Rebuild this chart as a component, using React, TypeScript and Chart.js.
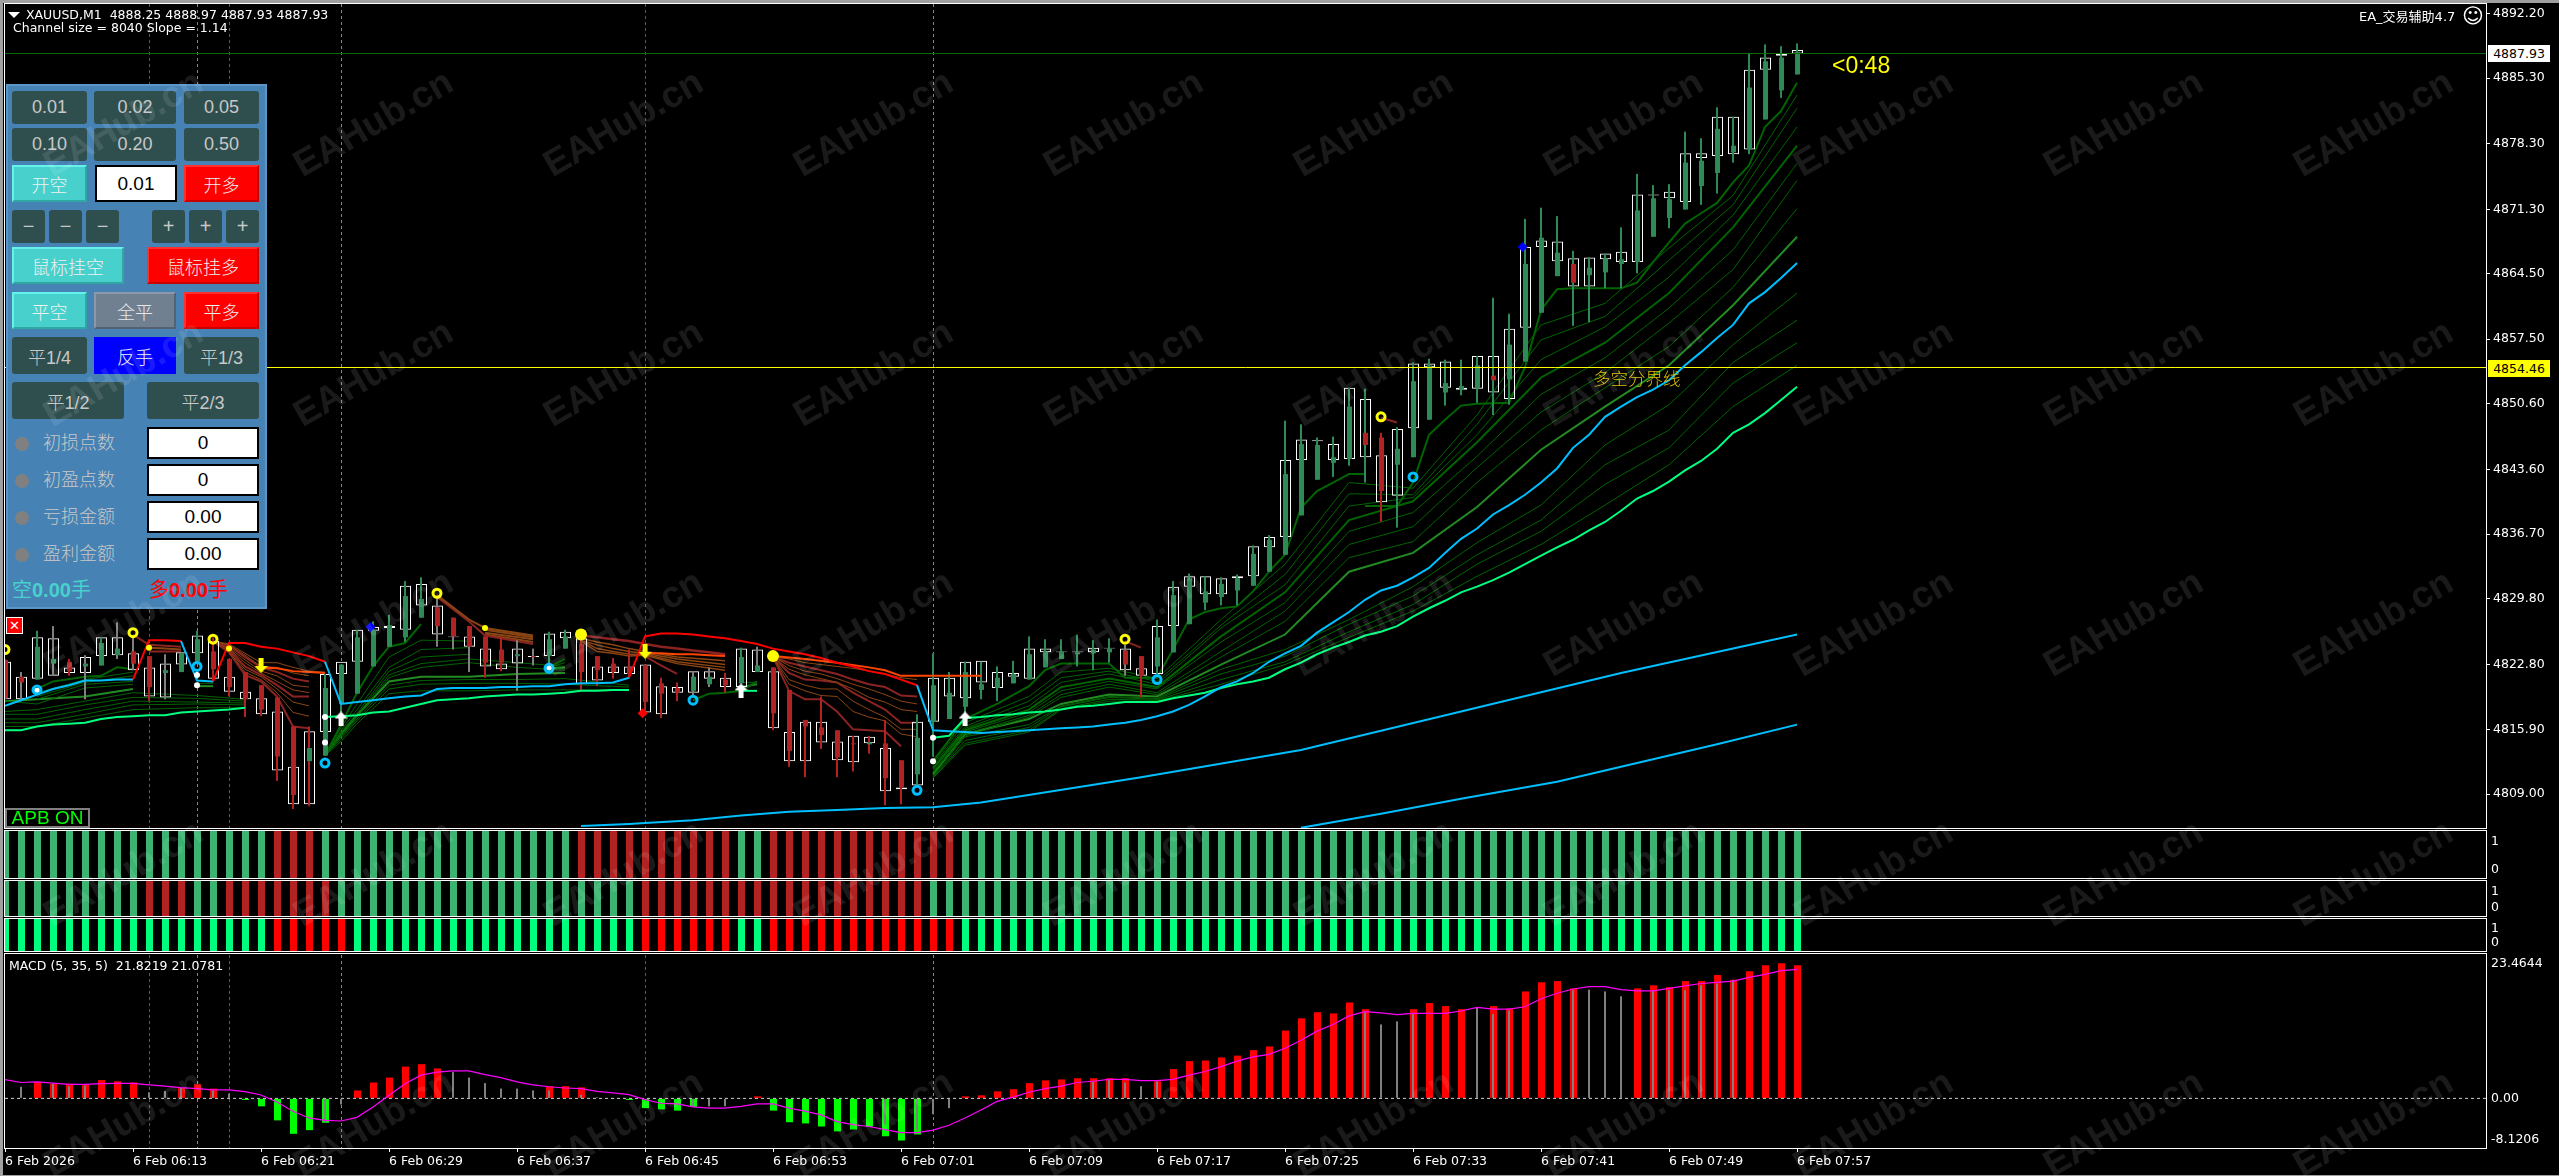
import React, { useEffect, useRef } from "react";
import { Chart, registerables } from "chart.js";

Chart.register(...registerables);

// ---------- categories and axis labels ----------
const timeTickBars = [0, 8, 16, 24, 32, 40, 48, 56, 64, 72, 80, 88, 96, 104, 112];
const timeLabels = ["6 Feb 2026", "6 Feb 06:13", "6 Feb 06:21", "6 Feb 06:29", "6 Feb 06:37", "6 Feb 06:45", "6 Feb 06:53", "6 Feb 07:01", "6 Feb 07:09", "6 Feb 07:17", "6 Feb 07:25", "6 Feb 07:33", "6 Feb 07:41", "6 Feb 07:49", "6 Feb 07:57"];
const priceTicks = [4892.2, 4885.3, 4878.3, 4871.3, 4864.5, 4857.5, 4850.6, 4843.6, 4836.7, 4829.8, 4822.8, 4815.9, 4809.0];
const lastPrice = 4887.93;
const dividePrice = 4854.46;
const redVLines = [9, 14, 40];
const blueVLines = [12, 21, 58];

// ---------- candles ----------
const wickHigh = [4823.4,4822.0,4826.4,4826.9,4823.4,4823.8,4825.7,4827.3,4825.8,4823.7,4823.9,4824.1,4826.4,4825.7,4823.4,4822.0,4820.6,4819.3,4816.2,4816.2,4821.8,4822.8,4826.5,4827.4,4828.1,4831.7,4832.1,4830.1,4827.8,4826.9,4825.8,4825.7,4825.4,4824.5,4826.3,4826.5,4825.7,4823.7,4823.5,4824.4,4822.8,4821.4,4820.9,4822.1,4822.5,4821.9,4824.6,4824.7,4822.5,4820.1,4816.9,4819.4,4815.8,4815.2,4815.2,4816.9,4812.6,4817.5,4824.0,4822.0,4823.1,4823.1,4822.6,4823.2,4825.8,4825.5,4825.5,4826.0,4825.4,4825.6,4824.9,4823.7,4827.6,4831.7,4832.5,4832.2,4832.1,4832.4,4835.5,4836.6,4848.8,4848.4,4847.0,4847.1,4852.3,4852.2,4847.5,4848.1,4855.0,4855.4,4855.3,4855.3,4855.7,4861.9,4860.2,4870.3,4871.5,4870.6,4866.9,4866.2,4866.6,4869.4,4875.1,4873.9,4874.0,4879.6,4878.9,4882.2,4881.2,4888.0,4888.9,4888.7,4889.0];
const wickLow = [4819.1,4818.9,4821.2,4821.6,4821.6,4819.1,4822.7,4823.4,4822.2,4818.9,4819.1,4822.0,4823.1,4820.9,4819.4,4817.2,4817.3,4810.4,4807.4,4807.7,4813.1,4816.4,4819.7,4822.6,4824.7,4825.2,4827.8,4824.7,4824.4,4822.0,4821.4,4822.1,4820.0,4822.7,4821.8,4824.5,4820.0,4820.5,4821.3,4821.3,4817.7,4817.1,4818.9,4819.4,4820.4,4819.8,4820.8,4822.0,4815.8,4811.9,4810.8,4813.8,4810.8,4811.4,4813.3,4807.8,4807.9,4809.9,4813.0,4817.0,4816.7,4819.1,4818.9,4820.8,4821.2,4822.5,4823.4,4822.6,4822.2,4823.0,4821.6,4819.3,4821.8,4824.1,4827.1,4828.6,4829.1,4829.1,4831.2,4832.7,4834.5,4838.7,4842.5,4842.8,4844.0,4842.2,4838.0,4837.4,4844.9,4848.9,4850.4,4851.5,4850.7,4849.4,4850.5,4855.1,4860.3,4864.2,4858.9,4859.3,4862.9,4862.9,4864.5,4868.4,4869.3,4871.3,4871.8,4873.0,4876.3,4877.2,4880.9,4883.2,4885.7];
const bodyTop = [4823.3,4821.5,4824.7,4823.4,4823.1,4822.9,4825.1,4824.5,4824.2,4823.7,4822.2,4824.0,4825.5,4824.2,4823.4,4822.0,4820.6,4819.3,4816.2,4813.9,4820.3,4822.8,4825.7,4826.5,4827.0,4830.1,4829.8,4828.9,4827.8,4826.9,4825.8,4824.4,4823.9,4823.7,4825.5,4825.8,4825.0,4823.7,4822.9,4822.5,4822.7,4820.8,4820.3,4821.5,4821.5,4821.2,4823.6,4822.7,4822.5,4820.1,4816.9,4816.1,4815.8,4814.4,4814.5,4814.4,4812.6,4815.0,4820.6,4819.8,4822.0,4820.7,4821.4,4821.8,4823.9,4824.2,4824.2,4824.1,4824.4,4824.5,4824.3,4823.7,4825.7,4830.2,4832.0,4830.6,4831.4,4832.0,4834.6,4836.1,4843.1,4846.3,4846.2,4844.9,4850.3,4847.5,4847.0,4845.8,4853.0,4854.7,4852.8,4852.5,4854.7,4853.6,4856.9,4865.5,4868.3,4866.7,4865.5,4865.1,4866.1,4866.0,4871.2,4872.5,4872.4,4876.3,4876.5,4879.9,4878.1,4884.3,4887.1,4887.5,4888.1];
const bodyBottom = [4819.2,4820.9,4821.2,4822.9,4822.1,4822.6,4822.7,4823.8,4822.9,4820.4,4821.9,4822.0,4823.1,4822.3,4820.4,4819.1,4818.0,4813.0,4808.9,4812.5,4813.1,4818.6,4819.7,4822.6,4824.7,4825.7,4827.8,4826.9,4825.8,4824.7,4823.0,4823.0,4823.7,4823.6,4823.7,4824.5,4822.0,4822.2,4822.0,4821.8,4818.8,4819.7,4819.8,4820.0,4820.7,4820.6,4820.8,4822.0,4817.6,4813.6,4816.2,4815.3,4812.9,4814.3,4814.3,4810.7,4809.7,4811.1,4816.7,4817.0,4818.3,4820.1,4820.3,4820.8,4821.2,4822.5,4823.4,4823.9,4824.0,4824.1,4822.8,4821.6,4822.6,4824.1,4827.1,4829.4,4830.0,4830.7,4831.2,4832.7,4834.5,4838.7,4842.5,4844.3,4844.7,4846.2,4841.3,4844.1,4844.9,4848.9,4851.8,4852.1,4852.3,4853.1,4853.2,4855.1,4860.3,4864.2,4863.5,4864.3,4864.6,4865.5,4865.7,4868.4,4870.4,4871.3,4873.8,4875.2,4877.4,4877.7,4880.9,4884.0,4885.7];
const boxTop = [4823.1,4821.5,4825.7,4825.6,4822.5,4823.6,4825.7,4825.7,4824.0,4822.5,4822.9,4824.1,4825.9,4825.3,4821.5,4819.9,4819.2,4817.8,4811.9,4815.7,4821.8,4823.1,4826.5,4826.8,4826.9,4831.2,4831.4,4829.1,4825.8,4825.8,4824.5,4822.9,4824.5,4823.7,4826.1,4826.3,4825.6,4822.6,4822.6,4822.6,4822.8,4820.5,4820.4,4822.1,4822.1,4821.4,4824.5,4824.4,4822.1,4815.6,4816.7,4816.7,4814.6,4815.2,4815.1,4813.9,4809.7,4816.7,4821.4,4821.4,4823.1,4823.2,4822.0,4821.9,4824.5,4824.5,4824.2,4824.2,4824.6,4824.6,4824.5,4822.4,4826.9,4831.1,4832.2,4832.2,4832.0,4832.2,4835.4,4836.4,4844.6,4846.8,4846.7,4846.3,4852.3,4851.1,4845.1,4847.9,4854.9,4854.9,4855.1,4852.3,4855.7,4855.7,4858.6,4867.3,4868.0,4867.9,4866.1,4866.2,4866.6,4866.8,4872.9,4872.9,4873.2,4877.3,4877.3,4881.2,4881.2,4886.2,4887.5,4887.9,4888.3];
const boxBottom = [4819.1,4819.1,4821.3,4821.6,4821.9,4821.9,4823.7,4823.8,4822.2,4819.4,4819.3,4822.8,4824.0,4821.3,4819.9,4819.1,4817.5,4811.5,4807.9,4807.9,4815.6,4821.8,4823.1,4826.4,4826.7,4826.5,4829.1,4826.0,4825.7,4824.7,4822.6,4822.3,4822.9,4823.6,4823.7,4825.6,4820.7,4821.1,4821.9,4821.8,4817.7,4817.5,4819.8,4819.8,4821.3,4820.4,4820.4,4822.0,4816.0,4812.5,4812.5,4814.5,4812.6,4812.4,4814.4,4809.3,4809.5,4809.9,4816.7,4819.4,4819.2,4820.9,4820.3,4821.5,4821.3,4824.1,4824.1,4824.1,4824.1,4824.5,4822.2,4821.6,4821.8,4826.9,4831.1,4830.3,4830.3,4832.0,4832.2,4835.3,4836.4,4844.6,4846.6,4844.6,4844.7,4844.9,4840.1,4840.8,4848.0,4854.5,4852.3,4852.1,4852.2,4851.8,4851.1,4858.7,4867.3,4865.8,4863.1,4863.1,4866.0,4865.7,4865.7,4872.8,4872.5,4872.1,4876.8,4877.0,4877.2,4877.7,4886.2,4887.7,4887.9];
const redBodies = [0,1,4,8,9,13,14,15,16,17,18,27,28,29,30,31,33,36,37,38,39,40,41,42,45,48,49,50,51,52,53,55,56,70,71,85,86,93,98];
const grayWicks = [1,3,5,7,8,10,11,27,28,29,32,33,43,44,47,70];
const greenWicksOnRed = [85,93,98];
const redWicksOnGreen = [19,54];

// ---------- main trend lines ----------
const trendLine = [4818.4,4819.0,4819.6,4820.2,4820.6,4821.1,4821.1,4821.2,4821.2,4825.4,4825.4,4825.3,4821.1,4821.0,4825.1,4825.1,4824.7,4824.5,4824.1,4823.7,4823.1,4818.6,4818.8,4819.0,4819.2,4819.4,4819.5,4820.2,4820.3,4820.3,4820.3,4820.4,4820.4,4820.5,4820.5,4820.7,4820.8,4820.8,4820.9,4821.4,4825.8,4826.1,4826.1,4826.0,4825.8,4825.6,4825.3,4825.0,4824.5,4824.2,4823.9,4823.5,4823.0,4822.6,4822.1,4821.8,4821.2,4820.6,4815.8,4815.7,4815.6,4815.5,4815.6,4815.7,4815.8,4815.9,4816.0,4816.1,4816.2,4816.4,4816.6,4816.9,4817.3,4817.8,4818.5,4819.4,4820.4,4821.0,4821.9,4823.1,4824.0,4824.8,4826.2,4827.3,4828.4,4829.7,4830.7,4831.2,4832.1,4833.1,4834.7,4836.2,4837.3,4838.8,4839.8,4840.9,4842.2,4843.7,4845.9,4847.3,4849.2,4850.3,4851.3,4852.1,4853.1,4854.7,4856.1,4857.6,4859.0,4861.3,4862.5,4864.0,4865.6];
const trendDownBars = [9,10,11,14,15,16,17,18,19,20,40,41,42,43,44,45,46,47,48,49,50,51,52,53,54,55,56,57];
const springA = [4815.8,4815.8,4816.2,4816.4,4816.5,4816.6,4817.0,4817.2,4817.3,4817.4,4817.4,4817.7,4817.8,4817.9,4818.0,4818.2];
const springB = [4817.2,4817.3,4817.4,4817.7,4817.8,4818.2,4818.6,4819.0,4819.1,4819.2,4819.4,4819.5,4819.6,4819.6,4819.7,4819.8,4820.0,4820.0,4820.1,4820.1];
const springC = [4820.0,4820.0];
const springD = [4815.0,4815.2,4817.1,4817.2,4817.4,4817.5,4817.7,4817.8,4818.0,4818.3,4818.4,4818.6,4818.8,4818.8,4818.8,4819.2,4819.5,4819.8,4820.3,4820.7,4821.0,4821.4,4822.3,4823.0,4823.9,4824.6,4825.2,4825.9,4826.3,4826.9,4827.9,4828.8,4829.6,4830.5,4831.1,4831.8,4832.6,4833.5,4834.4,4835.3,4836.1,4837.1,4838.0,4839.2,4840.5,4841.3,4842.3,4843.5,4844.5,4845.8,4847.5,4848.4,4849.6,4851.0,4852.4];
const longBars1 = [36,39,40,43,46,49,52,55,58,61,71,81,91,101,112];
const longLine1 = [4805.6,4805.8,4805.9,4806.2,4806.7,4807.1,4807.3,4807.5,4807.6,4808.1,4810.8,4813.7,4817.8,4821.9,4826.0];
const longBars2 = [81,86,91,97,102,107,112];
const longLine2 = [4805.4,4806.9,4808.5,4810.3,4812.3,4814.3,4816.4];

// ---------- rising ribbon, last leg ----------
const upTopBars1 = [58,60,62,64,65,66,69,70,72,73,74,75,76,77,78,79,80,81,82,83,84,85];
const upTop1 = [4812.5,4817.0,4818.6,4820.5,4822.2,4822.9,4822.9,4821.4,4821.4,4824.4,4827.6,4828.4,4828.8,4829.0,4830.6,4832.7,4834.5,4839.5,4841.3,4842.2,4843.1,4843.1];
const upTopBars2 = [85,87,88,89,90,91,92,94,95,96,97,98,101,102,103,104,105,106,107,108,109,110,111,112];
const upTop2 = [4839.7,4839.7,4842.2,4847.3,4848.9,4850.4,4850.6,4850.7,4854.5,4860.6,4862.8,4862.9,4862.9,4863.5,4865.7,4867.8,4869.8,4870.9,4872.0,4874.2,4876.0,4880.1,4881.8,4884.8];
const upFanBars = [58,60,64,66,69,72,76,80,84,88,92,96,100,104,108,112];
const upFan2 = [4812.3,4816.6,4819.4,4822.0,4822.4,4821.3,4827.6,4833.5,4842.2,4841.6,4849.4,4859.0,4861.3,4867.2,4872.8,4883.5];
const upFan3 = [4812.1,4816.2,4818.9,4821.4,4822.1,4821.0,4827.0,4832.4,4841.0,4840.9,4848.4,4857.4,4859.9,4865.9,4871.8,4882.1];
const upFan4 = [4811.9,4816.0,4818.4,4820.9,4821.8,4820.7,4826.7,4831.3,4839.7,4840.6,4847.3,4855.3,4858.8,4864.1,4870.7,4880.1];
const upFan5 = [4811.7,4815.8,4818.0,4820.4,4821.3,4820.4,4825.8,4830.5,4838.2,4840.2,4846.5,4853.4,4857.1,4862.4,4869.4,4878.1];
const upFan6 = [4811.6,4815.6,4817.7,4820.0,4821.0,4820.2,4825.2,4829.4,4837.0,4839.0,4845.0,4851.6,4855.5,4860.8,4867.0,4876.2];
const upFan7 = [4811.4,4815.4,4817.4,4819.6,4820.7,4819.8,4824.2,4828.5,4835.6,4837.5,4843.8,4849.7,4853.9,4859.2,4864.9,4874.4];
const upFan8 = [4811.3,4815.2,4817.2,4819.3,4820.4,4819.6,4823.6,4827.4,4834.2,4835.9,4842.2,4847.8,4852.3,4856.7,4863.0,4871.4];
const upFan9 = [4811.1,4815.4,4817.0,4818.6,4819.6,4819.4,4822.8,4826.0,4832.7,4834.7,4839.6,4845.7,4850.3,4854.7,4861.1,4868.4];
const upFan10 = [4811.0,4815.1,4816.4,4818.4,4819.4,4819.2,4822.3,4824.4,4827.6,4831.1,4835.8,4839.8,4846.2,4850.5,4856.9,4862.4];
const upFan11 = [4810.9,4814.7,4816.1,4818.3,4819.3,4819.1,4821.8,4823.7,4827.1,4830.1,4834.5,4838.2,4844.1,4847.8,4855.0,4859.5];
const upFan12 = [4810.8,4814.4,4815.8,4818.1,4819.1,4819.0,4821.2,4823.1,4826.3,4829.2,4833.5,4837.0,4842.0,4845.9,4852.8,4857.1];
const upFan13 = [4810.7,4814.2,4815.6,4818.0,4818.9,4818.9,4820.7,4822.8,4825.7,4828.5,4832.2,4835.6,4839.8,4844.1,4850.3,4854.7];

// ---------- early rising ribbons ----------
const earlyTopBars = [2,3,5,6,7,8];
const earlyTop = [4820.2,4821.0,4821.5,4821.6,4822.5,4822.3];
const earlyUpperBars = [2,5,8];
const earlyUpper2 = [4819.8,4821.2,4822.0];
const earlyUpper3 = [4819.4,4820.9,4821.6];
const earlyUpper4 = [4819.1,4820.7,4821.0];
const earlyMidBars = [0,2,5,8];
const earlyMid5 = [4818.9,4818.6,4820.3,4820.7];
const earlyForest = [4818.9,4819.1,4819.4,4820.2];
const earlyLowBars = [0,2,5,8,12,15];
const earlyLow1 = [4817.8,4818.0,4818.9,4819.8,4819.5,4819.1];
const earlyLow2 = [4817.5,4817.5,4818.5,4819.3,4819.2,4818.9];
const earlyLow3 = [4817.0,4817.0,4818.0,4818.9,4818.8,4818.7];
const earlyLow4 = [4816.6,4816.6,4817.5,4818.5,4818.6,4818.5];
const earlyLow5 = [4816.2,4816.2,4817.1,4818.0,4818.2,4818.2];
const shortBars = [12,13];
const shortA = [4820.8,4820.8];
const shortB = [4820.5,4820.5];
const midTopBars = [20,21,22,23,24,25,26];
const midTop = [4813.1,4816.4,4819.8,4822.6,4824.7,4825.1,4827.1];
const midBars = [20,21,22,24,26,29,32,35,39];
const mid2 = [4813.1,4816.1,4818.6,4823.6,4825.4,4825.3];
const mid3 = [4813.1,4815.8,4818.0,4822.5,4824.4,4824.6];
const mid4 = [4813.1,4815.6,4817.6,4822.1,4823.6,4823.9];
const mid5 = [4813.1,4815.4,4817.4,4821.7,4822.9,4823.4,4823.0,4822.6];
const mid6 = [4813.1,4815.2,4817.2,4821.4,4822.5,4823.0,4822.5,4822.2];
const midForest = [4813.1,4815.4,4817.4,4821.0,4821.5,4821.5,4821.8,4821.9];
const midLow1 = [4813.1,4815.1,4817.0,4820.6,4821.1,4821.2,4821.2,4821.3,4820.6];
const midLow2 = [4813.1,4814.9,4816.8,4820.2,4820.7,4820.8,4820.8,4820.7,4820.4];
const midLow3 = [4813.1,4814.6,4816.5,4819.7,4820.0,4820.0,4820.1,4820.1,4820.1];
const wedgeBars = [34,35];
const wedgeA = [4822.5,4823.4];
const wedgeB = [4822.5,4823.0];
const wedgeC = [4822.4,4822.5];
const stubBars = [43,44,45,46,47];
const stubTop = [4819.0,4819.7,4819.8,4820.0,4821.0];
const stubBars2 = [46,47];
const stubA = [4820.4,4820.7];
const stubB = [4820.9,4820.9];

// ---------- falling ribbons ----------
const fallCBars = [8,9,10,11];
const fallC1 = [4826.0,4824.9,4824.8,4824.7];
const fallCBars2 = [9,10,11];
const fallC2 = [4824.6,4824.5,4824.4];
const fallC3 = [4824.2,4824.2,4824.2];
const fallDBars = [13,14,15,16,17,18,19,20];
const fallD1 = [4825.3,4825.0,4824.0,4823.0,4823.0,4822.5,4822.1,4822.0];
const fallD2 = [4825.3,4824.9,4823.8,4822.6,4822.5,4821.9,4821.6];
const fallD3 = [4825.3,4824.8,4823.6,4822.5,4822.0,4821.3,4821.0];
const fallD4 = [4825.3,4824.6,4823.3,4822.1,4821.6,4820.6,4820.4];
const fallD5 = [4825.3,4824.5,4823.0,4821.9,4821.0,4820.1,4819.8];
const fallD6 = [4825.3,4824.4,4822.6,4821.7,4820.6,4819.4,4819.4];
const fallD7 = [4825.3,4824.3,4822.3,4821.5,4820.2,4818.8,4818.4];
const fallD8 = [4825.3,4824.2,4822.0,4821.2,4819.8,4817.7,4817.3];
const fallD9 = [4825.3,4824.1,4821.7,4821.0,4819.4,4816.2,4816.0];
const orangeDBars = [16,17,18,19,20];
const orangeD = [4822.5,4822.4,4822.1,4822.0,4821.9];
const fallEBars = [27,28,29,30,33];
const fallE1 = [4830.2,4828.9,4827.6,4826.7,4825.9];
const fallE2 = [4830.0,4828.7,4827.4,4825.9,4825.0];
const fallEBars2 = [30,33];
const fallE3 = [4826.5,4825.7];
const fallE4 = [4826.2,4825.5];
const fallE5 = [4826.0,4825.2];
const fallFBars = [36,37,38,39,40,41,42,43,44,45];
const fallF1 = [4825.9,4825.7,4825.5,4825.3,4825.0,4824.7,4824.5,4824.3,4824.1,4823.9];
const orangeFBars = [40,41,42,43,44,45];
const orangeF = [4824.0,4824.0,4823.9,4823.9,4823.8,4823.7];
const fallFBars2 = [36,37,38,39,40,42,45];
const fallF2 = [4825.6,4825.2,4824.9,4824.5,4824.2,4823.6,4823.2];
const fallF3 = [4825.4,4824.9,4824.5,4824.2,4824.0,4823.4,4822.8];
const fallF4 = [4825.4,4824.5,4824.2,4823.9,4823.9,4823.1,4822.5];
const fallF5 = [4825.3,4824.2,4824.0,4823.7,4823.8,4822.9,4822.2];
const fallFBars3 = [40,41,42];
const fallF6 = [4823.7,4822.7,4821.8];
const fallGBars = [48,49,50,51,52,53,54,55,56,57];
const fallG1 = [4823.6,4823.4,4823.0,4822.8,4822.6,4822.4,4822.1,4821.8,4821.4,4821.2];
const fallG2 = [4823.6,4823.0,4822.6,4822.2,4821.8,4821.2,4820.7,4820.4,4819.5,4819.4];
const fallG3 = [4823.6,4822.7,4822.1,4821.8,4821.3,4820.7,4820.2,4819.6,4818.9,4818.6];
const fallG4 = [4823.6,4822.3,4821.7,4821.3,4820.9,4820.2,4819.3,4818.8,4818.0,4817.8];
const fallG5 = [4823.6,4821.9,4821.2,4821.1,4820.9,4819.8,4818.9,4818.0,4816.6,4816.6];
const fallG6 = [4823.6,4821.2,4820.6,4820.2,4820.2,4818.9,4818.0,4817.2,4815.9,4815.9];
const fallG7 = [4823.6,4820.7,4820.0,4819.5,4819.4,4817.8,4817.2,4816.8,4815.4,4815.1];
const fallG8 = [4823.6,4820.0,4819.1,4819.1,4817.8,4815.9,4815.8,4815.7,4814.1];
const orangeGBars = [48,50,52,54,55,56,61];
const orangeG = [4823.7,4823.4,4823.0,4822.5,4822.2,4821.6,4821.6];
const tickBarsA = [70,71];
const tickA = [4825.3,4824.6];
const tickBarsB = [86,87];
const tickB = [4849.1,4848.6];

// ---------- signal markers ----------
const yellowRingBars = [0,8,13,27,70,86];
const yellowRings = [4824.4,4826.2,4825.5,4830.4,4825.5,4849.2];
const blueRingBars = [2,12,20,34,43,57,72,88];
const blueRings = [4820.1,4822.6,4812.3,4822.4,4819.0,4809.4,4821.2,4842.8];
const whiteDotBars = [2,12,12,20,20,34,58,58];
const whiteDots = [4820.0,4821.7,4820.6,4817.2,4814.5,4822.5,4815.0,4812.5];
const yellowDotBars = [9,14,30];
const yellowDots = [4824.6,4824.5,4826.7];
const yellowBlobBars = [36,48];
const yellowBlobs = [4826.0,4823.7];
const downArrowBars = [16,40];
const downArrows = [4822.7,4824.2];
const upArrowBars = [21,46,60];
const upArrows = [4817.0,4820.0,4817.0];
const blueDiamondBars = [22.85,94.85];
const blueDiamonds = [4826.8,4867.3];
const redDiamondBars = [39.85];
const redDiamonds = [4817.6];

// ---------- three signal strips ----------
const strip1DownRuns = [[17,19],[36,45],[48,59]];
const strip2DownRuns = [[9,11],[14,20],[40,57]];
const strip3DownRuns = [[17,21],[40,45],[48,59]];
const lastBar = 112;

// ---------- MACD ----------
const macdWide = [0,0,2.7,2.4,2.4,2.25,3.0,2.8,2.6,0,0,1.7,2.3,1.6,0,-0.27,-1.3,-3.6,-5.8,-5.2,-4.0,0,1.3,2.6,3.4,5.2,5.6,4.9,0,0,0,0,0,0,2.0,2.0,1.8,0,-0.1,-0.27,-1.6,-1.8,-2.0,-1.4,0,0,0,0.33,-2.0,-3.9,-4.1,-4.6,-5.4,-5.1,-4.6,-6.2,-6.9,-5.9,0,0,0.33,0.5,1.15,1.5,2.5,2.95,3.1,3.3,3.3,3.3,3.3,0,2.8,4.8,6.1,6.2,6.7,7.0,7.9,8.5,11.1,13.1,14.1,13.9,15.7,14.6,0,0,14.6,15.6,15.1,14.6,0,15.1,14.7,17.5,19.0,19.2,18.0,0,0,0,18.0,18.5,18.2,19.2,19.2,20.2,19.4,20.8,21.8,22.1,21.8];
const macdThin = [0,1.9,0,2.4,2.0,2.1,0,0,0,1.0,1.2,1.7,0,1.3,0.8,0,0,0,0,0,-3.9,-1.0,0,0,0,0,0,0,4.3,3.4,2.5,1.6,1.6,1.3,1.3,0,0.6,0.2,0,0,0,0,0,-1.4,-1.3,-1.3,-0.05,0,0,0,0,0,0,0,0,-4.3,0,-5.2,-2.6,-1.6,0,0,0,0,0,0,0,0,2.8,3.0,2.6,2.0,2.8,0,0,0,0,0,0,0,0,0,0,0,0,14.1,12.1,12.6,13.8,0,0,0,14.8,13.8,14.4,0,0,0,17.7,17.8,17.5,16.7,0,17.7,17.7,17.7,18.5,18.8,19.4,0,0,0,0];
const macdSignal = [3.06,2.6,2.7,2.5,2.3,2.3,2.4,2.45,2.45,2.2,2.0,1.75,1.6,1.4,1.4,1.1,0.55,-0.6,-2.1,-3.2,-3.6,-3.7,-3.1,-1.4,0.5,2.4,3.8,4.3,4.5,4.5,3.9,3.4,2.7,2.2,1.9,1.7,1.6,1.15,0.9,0.6,-0.2,-0.8,-0.9,-1.4,-1.6,-1.6,-1.3,-0.9,-0.9,-1.6,-2.1,-2.7,-3.8,-4.3,-4.6,-5.1,-5.6,-5.6,-5.2,-4.4,-3.2,-1.9,-0.5,0.2,1.0,1.6,2.0,2.6,2.8,3.1,3.1,2.9,2.9,3.1,3.8,4.4,5.2,6.1,6.8,7.2,8.2,9.5,11.0,12.1,13.5,14.2,14.0,13.7,13.9,13.9,13.9,14.3,14.9,14.6,14.6,15.0,16.3,17.2,17.9,18.3,18.3,17.8,17.6,17.6,18.0,18.4,18.8,19.0,19.2,19.8,20.3,20.9,21.1];
const macdMax = 23.4644;
const macdMin = -8.1206;

// ---------- styles ----------
const C = {
  bodyUp: "#2E8B57", bodyDown: "#B22222", wickGray: "#808080", box: "#FFFFFF",
  cyan: "#00BFFF", red: "#FF0000", spring: "#00FF7F", dark: "#006400", forest: "#228B22",
  brown: "#8B4513", darkRed: "#8B2323", orange: "#FF4500", yellow: "#FFFF00",
  stripUp: "#3CB371", stripDown: "#B22222", strip3Up: "#00FF7F", strip3Down: "#FF0000",
};
const UI_FONT = '"DejaVu Sans", sans-serif';
const AXIS_FONT = { family: '"DejaVu Sans", sans-serif', size: 12.5 };
const W = 2559;
const RIGHT_AXIS = 73;
const BAR_MAX = 155.06;
const HALF = 1 / 32;

const pair = (xs: number[], ys: number[]) => ys.map((y, k) => ({ x: xs[k], y }));
const seq = (from: number, ys: number[]) => ys.map((y, k) => ({ x: from + k, y }));
const inRuns = (runs: number[][], i: number) => runs.some(([a, b]) => i >= a && i <= b);
const barIndexes = Array.from({ length: lastBar + 1 }, (_, i) => i);

function ln(data: any[], color: string, width: number, order = 20, extra: any = {}) {
  return { type: "line", data, borderColor: color, borderWidth: width, pointRadius: 0, tension: 0, fill: false, order, ...extra };
}
function pts(data: any[], opt: any) {
  return { type: "scatter", data, order: 1, ...opt };
}
function arrowImage(color: string, down: boolean) {
  const c = document.createElement("canvas");
  c.width = 13; c.height = 15;
  const g = c.getContext("2d")!;
  g.fillStyle = color;
  if (down) { g.translate(0, 15); g.scale(1, -1); }
  g.beginPath();
  g.moveTo(6.5, 0); g.lineTo(13, 7); g.lineTo(9, 7); g.lineTo(9, 15); g.lineTo(4, 15); g.lineTo(4, 7); g.lineTo(0, 7);
  g.closePath(); g.fill();
  return c;
}

function framePlugin(frameTop: number) {
  return {
    id: "paneFrame",
    beforeDatasetsDraw(chart: any) {
      const { ctx, chartArea: a, scales } = chart;
      ctx.save();
      ctx.lineWidth = 1;
      ctx.setLineDash([3, 3]);
      const draw = (bars: number[], color: string) => {
        ctx.strokeStyle = color;
        bars.forEach((b) => {
          const x = Math.round(scales.x.getPixelForValue(b)) + 0.5;
          ctx.beginPath(); ctx.moveTo(x, a.top); ctx.lineTo(x, a.bottom); ctx.stroke();
        });
      };
      draw(redVLines, "#E02020");
      draw(blueVLines, "#1EA8E0");
      ctx.restore();
    },
    afterDraw(chart: any) {
      const { ctx, chartArea: a } = chart;
      ctx.save();
      ctx.strokeStyle = "#FFFFFF";
      ctx.lineWidth = 1;
      ctx.strokeRect(a.left - 0.5, frameTop + 0.5, a.right - a.left + 1, a.bottom - frameTop);
      ctx.restore();
    },
  };
}

function baseOptions(p: any) {
  return {
    responsive: false,
    animation: false,
    devicePixelRatio: 1,
    layout: { autoPadding: false, padding: { left: 5, right: 0, top: p.padTop, bottom: p.padBottom } },
    plugins: { legend: { display: false }, tooltip: { enabled: false } },
    datasets: { bar: { grouped: false, borderSkipped: false, inflateAmount: 0 } },
    events: [],
    scales: {
      x: {
        type: "linear", min: 0, max: BAR_MAX, display: !!p.showTime, offset: false,
        border: { display: false },
        grid: { offset: false, drawOnChartArea: false, drawTicks: !!p.showTime, tickLength: 4, color: "#FFFFFF" },
        afterBuildTicks: (s: any) => { s.ticks = timeTickBars.map((value) => ({ value })); },
        afterFit: (s: any) => {
          s.paddingLeft = 0; s.paddingRight = 0;
          if (p.showTime) s.height = 28;
        },
        ticks: {
          autoSkip: false, maxRotation: 0, align: "start", color: "#FFFFFF", font: AXIS_FONT, padding: 2,
          callback: (v: number) => timeLabels[timeTickBars.indexOf(v)],
        },
      },
      y: {
        type: "linear", position: "right", min: p.yMin, max: p.yMax,
        border: { display: false },
        grid: { drawOnChartArea: false, drawTicks: !!p.yMarks, tickLength: 4, color: "#FFFFFF" },
        afterFit: (s: any) => { s.width = RIGHT_AXIS; s.paddingTop = 0; s.paddingBottom = 0; },
        afterBuildTicks: (s: any) => { s.ticks = p.yTicks.map((value: number) => ({ value })); },
        ticks: {
          autoSkip: false, color: "#FFFFFF", font: AXIS_FONT, padding: p.yMarks ? 3 : 5,
          callback: p.yLabel,
        },
      },
    },
  };
}

function PaneChart({ top, height, build }: { top: number; height: number; build: () => any }) {
  const ref = useRef<HTMLCanvasElement | null>(null);
  useEffect(() => {
    const chart = new Chart(ref.current!, build());
    return () => chart.destroy();
  }, []);
  return <canvas ref={ref} width={W} height={height} style={{ position: "absolute", left: 0, top, width: W, height, display: "block" }} />;
}

function buildPrice() {
  const wickColor = (i: number) => {
    if (grayWicks.includes(i)) return C.wickGray;
    if (greenWicksOnRed.includes(i)) return C.bodyUp;
    if (redWicksOnGreen.includes(i)) return C.bodyDown;
    return redBodies.includes(i) ? C.bodyDown : C.bodyUp;
  };
  const thin = (xs: number[], ys: number[], color = C.dark, w = 1, order = 20) => ln(pair(xs, ys), color, w, order);
  const datasets: any[] = [
    // ribbons under the candles
    ...[earlyUpper2, earlyUpper3, earlyUpper4].map((s) => thin(earlyUpperBars, s)),
    thin(earlyTopBars, earlyTop, C.dark, 2),
    thin(earlyMidBars, earlyMid5),
    thin(earlyMidBars, earlyForest, C.forest, 2),
    ...[earlyLow1, earlyLow2, earlyLow3, earlyLow4, earlyLow5].map((s) => thin(earlyLowBars, s)),
    thin(shortBars, shortA, C.dark, 1), thin(shortBars, shortB, C.forest, 2),
    thin(midTopBars, midTop, C.dark, 2),
    ...[mid2, mid3, mid4, mid5, mid6, midLow1, midLow2, midLow3].map((s) => thin(midBars, s)),
    thin(midBars, midForest, C.forest, 2),
    thin(wedgeBars, wedgeA, C.dark, 2), thin(wedgeBars, wedgeB), thin(wedgeBars, wedgeC, C.forest, 2),
    thin(stubBars, stubTop, C.dark, 2), thin(stubBars2, stubA, C.forest, 2), thin(stubBars2, stubB),
    thin(upTopBars1, upTop1, C.dark, 2), thin(upTopBars2, upTop2, C.dark, 2),
    ...[upFan2, upFan3, upFan4, upFan6, upFan7, upFan8, upFan10, upFan11, upFan12, upFan13].map((s) => thin(upFanBars, s)),
    thin(upFanBars, upFan5, C.dark, 2),
    thin(upFanBars, upFan9, C.forest, 2),
    // falling ribbons
    thin(fallCBars, fallC1, C.darkRed, 2), thin(fallCBars2, fallC2, C.brown, 2), thin(fallCBars2, fallC3, C.darkRed, 2),
    thin(fallDBars, fallD1, C.brown, 1), thin(fallDBars, fallD2, C.brown, 1), thin(fallDBars, fallD3, C.darkRed, 2),
    thin(fallDBars, fallD4, C.brown, 1), thin(fallDBars, fallD5, C.brown, 1), thin(fallDBars, fallD6, C.darkRed, 2),
    thin(fallDBars, fallD7, C.brown, 1), thin(fallDBars, fallD8, C.brown, 1), thin(fallDBars, fallD9, C.darkRed, 2),
    thin(fallEBars, fallE1, C.brown, 2), thin(fallEBars, fallE2, C.darkRed, 2),
    thin(fallEBars2, fallE3, C.brown, 2), thin(fallEBars2, fallE4, C.brown, 2), thin(fallEBars2, fallE5, C.brown, 2),
    thin(fallFBars, fallF1, C.darkRed, 2.5),
    ...[fallF2, fallF3, fallF4, fallF5].map((s) => thin(fallFBars2, s, C.brown, 1.5)),
    thin(fallFBars3, fallF6, C.darkRed, 2),
    ...[fallG1, fallG3, fallG4, fallG6, fallG7].map((s) => thin(fallGBars, s, C.brown, 1)),
    ...[fallG2, fallG5, fallG8].map((s) => thin(fallGBars, s, C.darkRed, 2)),
    thin(tickBarsA, tickA, C.darkRed, 2), thin(tickBarsB, tickB, C.darkRed, 2),
    // candles
    {
      type: "bar", order: 12, barThickness: 11, borderWidth: 1, borderColor: C.box, backgroundColor: "rgba(0,0,0,0)",
      data: barIndexes.map((i) => ({ x: i + HALF, y: [boxBottom[i], boxTop[i]] })),
    },
    {
      type: "bar", order: 11, barThickness: 2, backgroundColor: barIndexes.map(wickColor),
      data: barIndexes.map((i) => ({ x: i, y: [wickLow[i], wickHigh[i]] })),
    },
    {
      type: "bar", order: 10, barThickness: 5,
      backgroundColor: barIndexes.map((i) => (redBodies.includes(i) ? C.bodyDown : C.bodyUp)),
      data: barIndexes.map((i) => ({ x: i + HALF, y: [bodyBottom[i], bodyTop[i]] })),
    },
    // lines over the candles
    ln(pair([0, BAR_MAX], [lastPrice, lastPrice]), "#0A6A0A", 1, 9),
    ln(pair([0, BAR_MAX], [dividePrice, dividePrice]), "#FFFF00", 1, 9),
    ln(seq(0, trendLine), C.cyan, 2, 5, {
      segment: { borderColor: (c: any) => (trendDownBars.includes(c.p1DataIndex) ? C.red : C.cyan) },
    }),
    ln(seq(0, springA), C.spring, 2, 6), ln(seq(20, springB), C.spring, 2, 6),
    ln(seq(46, springC), C.spring, 2, 6), ln(seq(58, springD), C.spring, 2, 6),
    ln(pair(longBars1, longLine1), C.cyan, 2, 6), ln(pair(longBars2, longLine2), C.cyan, 2, 6),
    thin(orangeDBars, orangeD, C.orange, 2, 6), thin(orangeFBars, orangeF, C.orange, 2, 6), thin(orangeGBars, orangeG, C.orange, 2, 6),
    // markers
    pts(pair(yellowRingBars, yellowRings), { pointStyle: "circle", pointRadius: 4, pointBorderWidth: 3, pointBorderColor: C.yellow, pointBackgroundColor: "rgba(0,0,0,0)" }),
    pts(pair(blueRingBars, blueRings), { pointStyle: "circle", pointRadius: 4, pointBorderWidth: 3, pointBorderColor: C.cyan, pointBackgroundColor: "rgba(0,0,0,0)" }),
    pts(pair(whiteDotBars, whiteDots), { pointStyle: "circle", pointRadius: 3, pointBorderWidth: 0, pointBackgroundColor: "#FFFFFF" }),
    pts(pair(yellowDotBars, yellowDots), { pointStyle: "circle", pointRadius: 3, pointBorderWidth: 0, pointBackgroundColor: C.yellow }),
    pts(pair(yellowBlobBars, yellowBlobs), { pointStyle: "circle", pointRadius: 6, pointBorderWidth: 0, pointBackgroundColor: C.yellow }),
    pts(pair(downArrowBars, downArrows), { pointStyle: arrowImage(C.yellow, true), pointRadius: 7 }),
    pts(pair(upArrowBars, upArrows), { pointStyle: arrowImage("#FFFFFF", false), pointRadius: 7 }),
    pts(pair(blueDiamondBars, blueDiamonds), { pointStyle: "rectRot", pointRadius: 5, pointBorderWidth: 0, pointBackgroundColor: "#0000FF" }),
    pts(pair(redDiamondBars, redDiamonds), { pointStyle: "rectRot", pointRadius: 5, pointBorderWidth: 0, pointBackgroundColor: "#FF0000" }),
  ];
  return {
    data: { datasets },
    options: baseOptions({
      padTop: 1, padBottom: 2, yMin: 4805.38, yMax: 4893.206, yTicks: priceTicks, yMarks: true,
      yLabel: (v: number) => v.toFixed(2),
    }),
    plugins: [framePlugin(0)],
  };
}

function buildStrip(runs: number[][], up: string, down: string, tickAt: number[], padTop: number) {
  return () => ({
    data: {
      datasets: [{
        type: "bar", barThickness: 7,
        data: barIndexes.map((i) => ({ x: i + HALF, y: 1 })),
        backgroundColor: barIndexes.map((i) => (inRuns(runs, i) ? down : up)),
      }],
    },
    options: baseOptions({
      padTop, padBottom: 2, yMin: 0, yMax: 1, yTicks: tickAt, yMarks: false,
      yLabel: (_v: number, idx: number) => (idx === 0 ? "0" : "1"),
    }),
    plugins: [framePlugin(0)],
  });
}

function buildMacd() {
  return {
    data: {
      datasets: [
        {
          type: "bar", order: 6, barThickness: 7,
          data: barIndexes.filter((i) => macdWide[i] !== 0).map((i) => ({ x: i + HALF, y: macdWide[i] })),
          backgroundColor: barIndexes.filter((i) => macdWide[i] !== 0).map((i) => (macdWide[i] > 0 ? "#FF0000" : "#00FF00")),
        },
        {
          type: "bar", order: 5, barThickness: 2, backgroundColor: "#808080",
          data: barIndexes.filter((i) => macdThin[i] !== 0).map((i) => ({ x: i, y: macdThin[i] })),
        },
        ln(pair([0, BAR_MAX], [0, 0]), "#D0D0D0", 1, 4, { borderDash: [3, 3] }),
        ln(seq(0, macdSignal), "#FF00FF", 1.2, 3),
      ],
    },
    options: baseOptions({
      padTop: 2, padBottom: 0, yMin: macdMin, yMax: macdMax, yTicks: [-6.7, 0, 22], yMarks: false, showTime: true,
      yLabel: (_v: number, idx: number) => [macdMin.toFixed(4), "0.00", macdMax.toFixed(4)][idx],
    }),
    plugins: [framePlugin(0)],
  };
}

// ---------- DOM overlays ----------
function Txt({ x, y, children, style }: any) {
  return (
    <div style={{ position: "absolute", left: x, top: y, transform: "translateY(-50%)", whiteSpace: "pre", color: "#FFFFFF", fontFamily: UI_FONT, fontSize: 12.5, lineHeight: 1, ...style }}>
      {children}
    </div>
  );
}
function Btn({ x0, x1, y0, y1, bg, color = "#C8C8C8", bevel, radius = 3, text, size = 18, bold }: any) {
  const border = bevel ? { borderStyle: "solid", borderWidth: 2, borderColor: `${bevel[0]} ${bevel[1]} ${bevel[1]} ${bevel[0]}`, borderRadius: 0 } : { borderRadius: radius };
  return (
    <div style={{
      position: "absolute", left: x0, top: y0, width: x1 - x0, height: y1 - y0, boxSizing: "border-box", background: bg,
      color, display: "flex", alignItems: "center", justifyContent: "center", fontSize: size, fontWeight: bold ? 700 : 300,
      fontFamily: '"Liberation Sans", "Noto Sans CJK SC", sans-serif', ...border,
    }}>{text}</div>
  );
}
const SLATE = "#2F4F4F";
const TURQ = ["#66F2EC", "#2FA8A3"];
const REDB = ["#FF3030", "#C80000"];
const lotRow1 = ["0.01", "0.02", "0.05"];
const lotRow2 = ["0.10", "0.20", "0.50"];
const col3 = [[12, 87], [94, 176], [184, 259]];
const fieldLabels = ["初损点数", "初盈点数", "亏损金额", "盈利金额"];
const fieldValues = ["0", "0", "0.00", "0.00"];
const fieldRows = [[427, 459], [464, 496], [501, 533], [538, 570]];
const minusCols = [[12, 45], [49, 82], [86, 119]];
const plusCols = [[152, 185], [189, 222], [226, 259]];

function Panel() {
  return (
    <>
      <div style={{ position: "absolute", left: 6, top: 84, width: 261, height: 525, boxSizing: "border-box", background: "#4682B4", border: "2px solid #5A96C8" }} />
      {lotRow1.map((t, k) => <Btn key={t} x0={col3[k][0]} x1={col3[k][1]} y0={91} y1={124} bg={SLATE} text={t} />)}
      {lotRow2.map((t, k) => <Btn key={t} x0={col3[k][0]} x1={col3[k][1]} y0={128} y1={161} bg={SLATE} text={t} />)}
      <Btn x0={12} x1={87} y0={165} y1={202} bg="#48D1CC" bevel={TURQ} color="#F0F0F0" text="开空" />
      <Btn x0={95} x1={177} y0={165} y1={202} bg="#FFFFFF" color="#000" bevel={["#000", "#000"]} text="0.01" size={19} />
      <Btn x0={184} x1={259} y0={165} y1={202} bg="#FF0000" bevel={REDB} color="#F0F0F0" text="开多" />
      {minusCols.map((c, k) => <Btn key={"m" + k} x0={c[0]} x1={c[1]} y0={210} y1={243} bg={SLATE} text="−" size={20} />)}
      {plusCols.map((c, k) => <Btn key={"p" + k} x0={c[0]} x1={c[1]} y0={210} y1={243} bg={SLATE} text="+" size={20} />)}
      <Btn x0={12} x1={124} y0={247} y1={284} bg="#48D1CC" bevel={TURQ} color="#F0F0F0" text="鼠标挂空" />
      <Btn x0={147} x1={259} y0={247} y1={284} bg="#FF0000" bevel={REDB} color="#F0F0F0" text="鼠标挂多" />
      <Btn x0={12} x1={87} y0={292} y1={329} bg="#48D1CC" bevel={TURQ} color="#F0F0F0" text="平空" />
      <Btn x0={94} x1={176} y0={292} y1={329} bg="#708090" bevel={["#8A98A8", "#556070"]} color="#E8E8E8" text="全平" />
      <Btn x0={184} x1={259} y0={292} y1={329} bg="#FF0000" bevel={REDB} color="#F0F0F0" text="平多" />
      <Btn x0={12} x1={87} y0={337} y1={374} bg={SLATE} text="平1/4" />
      <Btn x0={94} x1={176} y0={337} y1={374} bg="#0000FF" radius={0} color="#F0F0F0" text="反手" />
      <Btn x0={184} x1={259} y0={337} y1={374} bg={SLATE} text="平1/3" />
      <Btn x0={12} x1={124} y0={382} y1={419} bg={SLATE} text="平1/2" />
      <Btn x0={147} x1={259} y0={382} y1={419} bg={SLATE} text="平2/3" />
      {fieldLabels.map((t, k) => (
        <React.Fragment key={t}>
          <div style={{ position: "absolute", left: 15, top: fieldRows[k][0] + 10, width: 14, height: 14, borderRadius: 7, background: "#808080" }} />
          <Txt x={43} y={fieldRows[k][0] + 14} style={{ fontFamily: '"Noto Sans CJK SC"', fontSize: 18, fontWeight: 300, color: "#C8C8C8" }}>{t}</Txt>
          <Btn x0={147} x1={259} y0={fieldRows[k][0]} y1={fieldRows[k][1]} bg="#FFFFFF" color="#000" bevel={["#000", "#000"]} radius={2} text={fieldValues[k]} size={19} />
        </React.Fragment>
      ))}
      <Txt x={12} y={590} style={{ fontFamily: '"Liberation Sans", "Noto Sans CJK SC"', fontSize: 20, color: "#48D1CC" }}>空<b>0.00</b>手</Txt>
      <Txt x={149} y={590} style={{ fontFamily: '"Liberation Sans", "Noto Sans CJK SC"', fontSize: 20, color: "#FF0000" }}>多<b>0.00</b>手</Txt>
    </>
  );
}

const wmCols = [123, 373, 623, 873, 1123, 1373, 1623, 1873, 2123, 2373];
const wmRows = [123, 373, 623, 873, 1123];
function Watermarks() {
  return (
    <div style={{ position: "absolute", inset: 0, overflow: "hidden", pointerEvents: "none" }}>
      {wmRows.flatMap((r) => wmCols.map((c) => (
        <div key={r + "-" + c} style={{
          position: "absolute", left: c, top: r, transform: "translate(-50%,-50%) rotate(-30deg)", whiteSpace: "nowrap",
          fontFamily: '"Liberation Sans", sans-serif', fontWeight: 700, fontSize: 37, color: "rgba(255,255,255,0.1)",
        }}>EAHub.cn</div>
      )))}
    </div>
  );
}

export default function App() {
  return (
    <div style={{ position: "fixed", left: 0, top: 0, width: W, height: 1176, background: "#000", overflow: "hidden" }}>
      <div style={{ position: "absolute", left: 0, top: 0, width: W, height: 3, background: "#A0A0A0" }} />
      <div style={{ position: "absolute", left: 0, top: 0, width: 3, height: 1176, background: "#A0A0A0" }} />
      <div style={{ position: "absolute", left: 0, top: 1175, width: W, height: 1, background: "#A0A0A0" }} />

      <PaneChart top={3} height={827} build={buildPrice} />
      <PaneChart top={830} height={50} build={buildStrip(strip1DownRuns, C.stripUp, C.stripDown, [0.17, 0.78], 1)} />
      <PaneChart top={880} height={38} build={buildStrip(strip2DownRuns, C.stripUp, C.stripDown, [0.235, 0.7], 1)} />
      <PaneChart top={918} height={35} build={buildStrip(strip3DownRuns, C.strip3Up, C.strip3Down, [0.26, 0.68], 1)} />
      <PaneChart top={953} height={223} build={buildMacd} />

      <Panel />

      {/* header texts */}
      <div style={{ position: "absolute", left: 8, top: 12, width: 0, height: 0, borderLeft: "6px solid transparent", borderRight: "6px solid transparent", borderTop: "6px solid #fff" }} />
      <Txt x={26} y={15}>{"XAUUSD,M1  4888.25 4888.97 4887.93 4887.93"}</Txt>
      <Txt x={13} y={28}>{"Channel size = 8040 Slope = 1.14"}</Txt>
      <Txt x={2359} y={16} style={{ fontFamily: '"DejaVu Sans", "Noto Sans CJK SC"', fontSize: 13 }}>EA_交易辅助4.7</Txt>
      <Txt x={2462} y={16} style={{ fontSize: 21 }}>☺</Txt>
      <Txt x={1832} y={65} style={{ fontFamily: '"Liberation Sans"', fontSize: 23, color: "#FFFF00" }}>{"<0:48"}</Txt>
      <Txt x={1593} y={378} style={{ fontFamily: '"Noto Sans CJK SC"', fontSize: 17.5, fontWeight: 300, color: "#E0C000" }}>多空分界线</Txt>
      <Txt x={9} y={966}>{"MACD (5, 35, 5)  21.8219 21.0781"}</Txt>

      {/* current price tags */}
      <div style={{ position: "absolute", left: 2488, top: 45, width: 62, height: 17, background: "#FFF", color: "#000", fontFamily: UI_FONT, fontSize: 12.5, lineHeight: "17px", textAlign: "center" }}>4887.93</div>
      <div style={{ position: "absolute", left: 2488, top: 360, width: 62, height: 17, background: "#FFFF00", color: "#000", fontFamily: UI_FONT, fontSize: 12.5, lineHeight: "17px", textAlign: "center" }}>4854.46</div>

      {/* close button and APB status */}
      <div style={{ position: "absolute", left: 6, top: 617, width: 17, height: 17, boxSizing: "border-box", background: "#FF0000", border: "1px solid #fff", color: "#fff", fontSize: 13, lineHeight: "15px", textAlign: "center", fontFamily: UI_FONT, fontWeight: 700 }}>✕</div>
      <div style={{ position: "absolute", left: 5, top: 808, width: 85, height: 20, boxSizing: "border-box", border: "2px solid #808080", color: "#00FF00", fontFamily: '"Liberation Sans"', fontSize: 19, lineHeight: "16px", textAlign: "center" }}>APB ON</div>

      <Watermarks />
    </div>
  );
}
